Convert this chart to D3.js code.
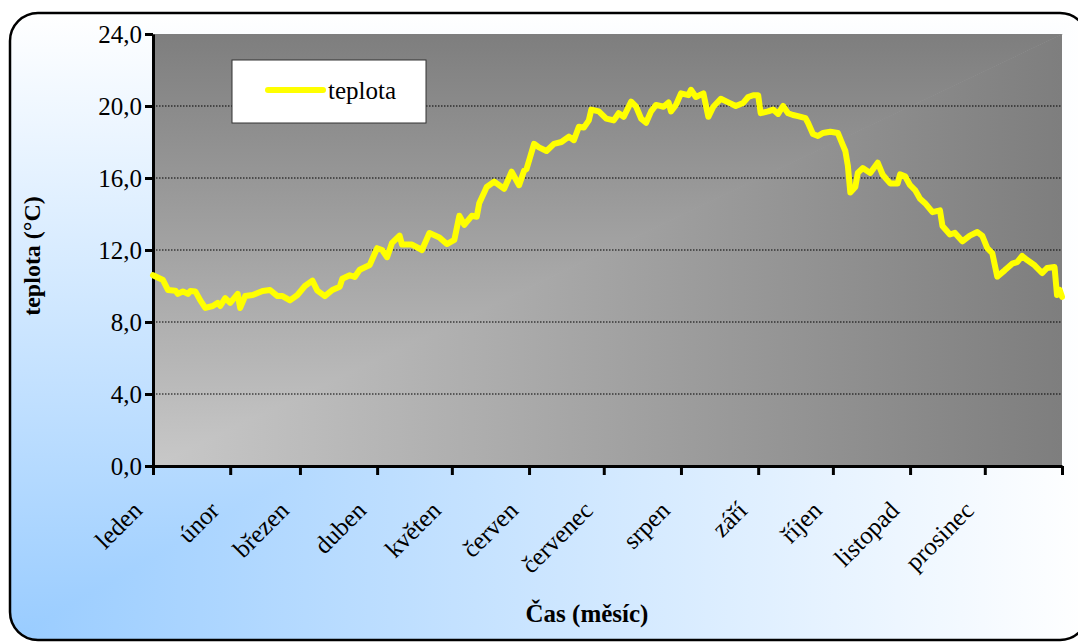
<!DOCTYPE html>
<meta charset="utf-8">
<style>
  body {
    margin: 0;
    background: #fff;
  }

  svg {
    display: block;
    font-family: "Liberation Serif", "Times New Roman", serif;
  }

  .grid line {
    stroke: #000;
    stroke-width: 1;
    stroke-dasharray: 1.5, 1.5;
  }

  .axis path,
  .axis line {
    stroke: #000;
    stroke-width: 3;
  }

  .axis text {
    font-family: "Liberation Serif", "Times New Roman", serif;
    font-size: 25px;
    fill: #000;
  }

  .line {
    fill: none;
    stroke: #ffff00;
    stroke-width: 6;
    stroke-linejoin: round;
    stroke-linecap: round;
  }
</style>

<body>
  <svg width="1078" height="642"></svg>
</body>
<script src="https://cdn.jsdelivr.net/npm/d3@7"></script>
<script>
  // month names for the x axis
  var months = ["leden", "únor", "březen", "duben", "květen", "červen",
    "červenec", "srpen", "září", "říjen", "listopad", "prosinec"];
  // first day of each month (day of year), last value = end of year
  var monthStarts = [0, 31, 59, 90, 120, 151, 181, 212, 243, 273, 304, 334, 365];
  var yTicks = [0, 4, 8, 12, 16, 20, 24];

  // temperature: day of year and value
  var days = [0, 4, 6, 9, 10, 12, 14, 15, 17, 19, 21, 24, 26, 27, 29, 31, 34, 35, 37, 40,
    44, 47, 50, 52, 55, 58, 61, 64, 66, 69, 72, 75, 76, 79, 81, 83, 87, 90, 92, 94,
    96, 99, 100, 104, 108, 111, 115, 118, 121, 123, 125, 128, 130, 131, 134, 137, 141, 144, 147, 149,
    150, 153, 155, 158, 161, 164, 167, 169, 171, 173, 175, 176, 179, 182, 185, 187, 189, 192, 194, 196,
    198, 200, 202, 205, 207, 208, 210, 212, 215, 216, 218, 221, 223, 225, 228, 231, 234, 237, 239, 241,
    243, 244, 247, 249, 251, 253, 255, 257, 259, 262, 263, 265, 267, 269, 272, 275, 277, 278, 279, 280,
    282, 283, 285, 288, 291, 293, 296, 299, 300, 302, 304, 306, 308, 310, 313, 316, 317, 320, 322, 325,
    328, 331, 333, 335, 337, 339, 342, 345, 347, 349, 351, 354, 357, 359, 362, 363, 364, 365];
  var temps = [10.6, 10.33, 9.78, 9.74, 9.56, 9.7, 9.56, 9.72, 9.7, 9.2, 8.78, 8.89, 9.06, 8.89, 9.33, 9.06, 9.56, 8.78, 9.44, 9.5,
    9.72, 9.78, 9.44, 9.44, 9.2, 9.5, 10.0, 10.3, 9.74, 9.44, 9.78, 9.96, 10.4, 10.6, 10.5, 10.9, 11.17, 12.1, 12.0, 11.6,
    12.4, 12.8, 12.3, 12.3, 12.0, 12.94, 12.7, 12.33, 12.56, 13.9, 13.4, 13.9, 13.85, 14.6, 15.5, 15.8, 15.4, 16.35, 15.6, 16.4,
    16.5, 17.9, 17.7, 17.5, 17.9, 18.0, 18.3, 18.1, 18.85, 18.8, 19.2, 19.8, 19.7, 19.3, 19.2, 19.6, 19.4, 20.24, 19.96, 19.3,
    19.07, 19.7, 20.06, 19.96, 20.2, 19.7, 20.06, 20.7, 20.6, 20.9, 20.5, 20.7, 19.4, 19.96, 20.4, 20.2, 20.0, 20.17, 20.5, 20.6,
    20.6, 19.6, 19.7, 19.8, 19.56, 20.0, 19.6, 19.5, 19.44, 19.33, 19.07, 18.44, 18.33, 18.5, 18.57, 18.5, 17.83, 17.5, 16.7, 15.2,
    15.5, 16.28, 16.55, 16.28, 16.85, 16.18, 15.7, 15.7, 16.2, 16.1, 15.6, 15.33, 14.85, 14.6, 14.1, 14.2, 13.33, 12.86, 12.95, 12.48,
    12.8, 13.0, 12.78, 12.1, 11.83, 10.52, 10.87, 11.24, 11.33, 11.67, 11.44, 11.15, 10.72, 11.0, 11.05, 9.5, 9.8, 9.4];

  var svg = d3.select("svg"),
    plot = { left: 153, right: 1062, top: 34, bottom: 466 },
    frame = { left: 10, right: 1088, top: 13, bottom: 640 };

  var x = d3.scaleLinear().domain([0, 365]).range([plot.left, plot.right]),
    y = d3.scaleLinear().domain([0, 24]).range([plot.bottom, plot.top]);

  var defs = svg.append("defs");

  // "from corner" fill: colour goes with max(distance from left, distance from bottom).
  // done as two triangles split on the diagonal, one with a vertical and one with a horizontal gradient
  function cornerFill(g, box, id, light, dark) {
    var v = defs.append("linearGradient").attr("id", id + "V")
      .attr("gradientUnits", "userSpaceOnUse")
      .attr("x1", 0).attr("y1", box.bottom).attr("x2", 0).attr("y2", box.top);
    var h = defs.append("linearGradient").attr("id", id + "H")
      .attr("gradientUnits", "userSpaceOnUse")
      .attr("x1", box.left).attr("y1", 0).attr("x2", box.right).attr("y2", 0);
    [v, h].forEach(function (gr) {
      gr.append("stop").attr("offset", 0).attr("stop-color", light);
      gr.append("stop").attr("offset", 1).attr("stop-color", dark);
    });
    var pad = 1;
    g.append("polygon")
      .attr("points", [[box.left, box.bottom + pad], [box.left, box.top], [box.right + pad, box.top]].join(" "))
      .attr("fill", "url(#" + id + "V)");
    g.append("polygon")
      .attr("points", [[box.left, box.bottom], [box.right, box.bottom], [box.right, box.top]].join(" "))
      .attr("fill", "url(#" + id + "H)");
  }

  // chart area: blue in the bottom left corner, white towards the other sides
  defs.append("clipPath").attr("id", "frameClip")
    .append("rect")
    .attr("x", frame.left).attr("y", frame.top)
    .attr("width", frame.right - frame.left).attr("height", frame.bottom - frame.top)
    .attr("rx", 28).attr("ry", 28);

  var bg = svg.append("g").attr("clip-path", "url(#frameClip)");
  cornerFill(bg, frame, "bg", "#99ccff", "#ffffff");

  svg.append("rect")
    .attr("x", frame.left).attr("y", frame.top)
    .attr("width", frame.right - frame.left).attr("height", frame.bottom - frame.top)
    .attr("rx", 28).attr("ry", 28)
    .attr("fill", "none")
    .attr("stroke", "#000")
    .attr("stroke-width", 2.5);

  // plot area: light gray bottom left, dark gray top and right
  var pg = svg.append("g");
  cornerFill(pg, plot, "plot", "#c8c8c8", "#7e7e7e");

  // horizontal grid lines
  svg.append("g")
    .attr("class", "grid")
    .selectAll("line")
    .data(yTicks.filter(function (d) { return d > 0 && d < 24; }))
    .enter().append("line")
    .attr("x1", plot.left).attr("x2", plot.right)
    .attr("y1", function (d) { return y(d); })
    .attr("y2", function (d) { return y(d); });

  // y axis
  var yAxis = svg.append("g")
    .attr("class", "axis axis--y")
    .attr("transform", "translate(" + plot.left + ",0)")
    .call(d3.axisLeft(y)
      .tickValues(yTicks)
      .tickSize(8)
      .tickSizeOuter(0)
      .tickPadding(3)
      .tickFormat(function (d) { return d.toFixed(1).replace(".", ","); }));
  yAxis.selectAll("text").attr("dy", "0.34em");

  // x axis, labels rotated
  var xAxis = svg.append("g")
    .attr("class", "axis axis--x")
    .attr("transform", "translate(0," + plot.bottom + ")")
    .call(d3.axisBottom(x)
      .tickValues(monthStarts)
      .tickSize(9)
      .tickSizeOuter(0)
      .tickFormat(function (d, i) { return months[i] || ""; }));
  xAxis.selectAll("text")
    .attr("text-anchor", "end")
    .attr("dy", null)
    .attr("y", null)
    .attr("transform", "translate(-10,46) rotate(-45)");

  // temperature line
  var line = d3.line()
    .x(function (d, i) { return x(days[i]); })
    .y(function (d) { return y(d); });

  svg.append("path")
    .datum(temps)
    .attr("class", "line")
    .attr("d", line);

  // legend
  var legend = svg.append("g").attr("transform", "translate(232,60)");
  legend.append("rect")
    .attr("width", 194).attr("height", 63)
    .attr("fill", "#fff")
    .attr("stroke", "#333")
    .attr("stroke-width", 1);
  legend.append("line")
    .attr("x1", 36).attr("x2", 91)
    .attr("y1", 30).attr("y2", 30)
    .attr("stroke", "#ffff00")
    .attr("stroke-width", 6)
    .attr("stroke-linecap", "round");
  legend.append("text")
    .attr("x", 96).attr("y", 39)
    .attr("font-size", 25)
    .text("teplota");

  // axis titles
  svg.append("text")
    .attr("transform", "translate(40,256) rotate(-90)")
    .attr("text-anchor", "middle")
    .attr("font-size", 24)
    .attr("font-weight", "bold")
    .text("teplota (°C)");

  svg.append("text")
    .attr("x", 587).attr("y", 622)
    .attr("text-anchor", "middle")
    .attr("font-size", 25)
    .attr("font-weight", "bold")
    .text("Čas (měsíc)");
</script>
